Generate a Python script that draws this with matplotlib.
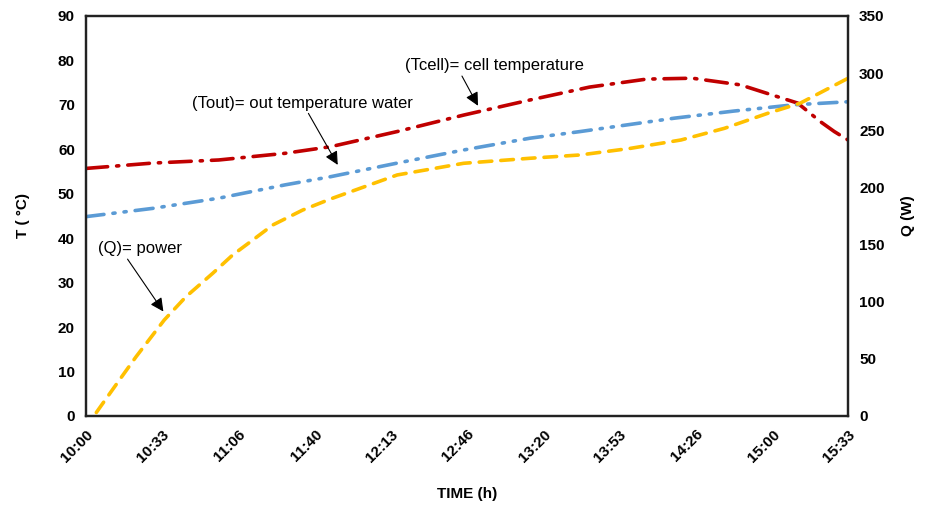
import matplotlib
matplotlib.use("Agg")
import matplotlib.pyplot as plt

# time axis in minutes after 10:00
tick_labels = ["10:00", "10:33", "11:06", "11:40", "12:13", "12:46",
               "13:20", "13:53", "14:26", "15:00", "15:33"]
tick_minutes = [0, 33.3, 66.6, 100, 133.2, 166.5, 200, 233, 266.4, 300, 333]

t_cell_min = [0, 29, 58, 87, 107, 136, 165, 194, 220, 245, 265, 286,
              300, 311, 321, 327, 333]
t_cell = [55.7, 56.9, 57.6, 59.1, 60.6, 64.0, 67.7, 71.1, 74.0, 75.8, 76.0,
          74.5, 72.2, 70.4, 66.2, 64.0, 62.1]

t_out_min = [0, 29, 58, 87, 107, 136, 165, 194, 216, 231, 257, 283, 309, 333]
t_out = [44.85, 46.7, 49.0, 52.0, 53.85, 56.9, 59.85, 62.5, 64.0, 65.1,
         67.0, 68.6, 70.0, 70.7]

q_min = [4.5, 5.8, 14.6, 21.9, 34.2, 43.7, 55.4, 64.1, 72.9, 81.6, 94.7,
         107, 136, 165, 194, 216, 238, 260, 279, 298, 312, 333]
q_power = [3, 6.7, 31.5, 51.9, 84, 104.4, 124.9, 140.9, 154, 167.1, 180.2,
           190, 210.9, 221.1, 225.5, 228.4, 234.2, 241.5, 251.7, 264.9,
           273.6, 295.5]

plt.rcParams["font.family"] = ["Liberation Sans", "DejaVu Sans"]

fig = plt.figure(figsize=(9.28, 5.11), dpi=100)
ax = fig.add_axes([0.0927, 0.186, 0.8211, 0.7827])
ax2 = ax.twinx()

ax.plot(t_cell_min, t_cell, color="#C00000", lw=2.6,
        dashes=(6, 2.5, 0.6, 2.5), dash_capstyle="round")
ax.plot(t_out_min, t_out, color="#5B9BD5", lw=2.6,
        dashes=(5, 2.5, 0.6, 2.5, 0.6, 2.5), dash_capstyle="round")
ax2.plot(q_min, q_power, color="#FFC000", lw=2.6,
         dashes=(3.5, 2.5), dash_capstyle="round")

ax.set_xlim(0, 333)
ax.set_ylim(0, 90)
ax2.set_ylim(0, 350)
ax.set_yticks(range(0, 91, 10))
ax2.set_yticks(range(0, 351, 50))
ax.set_xticks(tick_minutes)
ax.set_xticklabels(tick_labels, rotation=45, ha="right", rotation_mode="anchor",
                   fontsize=11, fontweight="bold")
for lbl in ax.get_yticklabels() + ax2.get_yticklabels():
    lbl.set_fontweight("bold")
    lbl.set_fontsize(11)
ax.tick_params(axis="both", length=0, pad=8)
ax2.tick_params(axis="y", length=0, pad=8)

ax.set_xlabel("TIME (h)", fontsize=11, fontweight="bold", labelpad=16)
ax.set_ylabel("T ( °C)", fontsize=11, fontweight="bold", labelpad=20)
ax2.set_ylabel("Q (W)", fontsize=11, fontweight="bold", labelpad=12)

for a in (ax, ax2):
    for s in a.spines.values():
        s.set_linewidth(1.6)
        s.set_color("#222222")


def arrow(rx):
    return dict(arrowstyle="-|>", color="black", lw=0.8, mutation_scale=20,
                relpos=(rx, 0.0), shrinkA=0, shrinkB=0)


ax.annotate("(Tcell)= cell temperature", xy=(171.3, 69.8), xytext=(139.4, 78.8),
            fontsize=12, arrowprops=arrow(0.31), va="center")
ax.annotate("(Tout)= out temperature water", xy=(110, 56.5), xytext=(46.3, 70.4),
            fontsize=12, arrowprops=arrow(0.52), va="center")
ax.annotate("(Q)= power", xy=(33.8, 23.5), xytext=(5.2, 37.6),
            fontsize=12, arrowprops=arrow(0.33), va="center")

fig.savefig("out.png", dpi=100)
